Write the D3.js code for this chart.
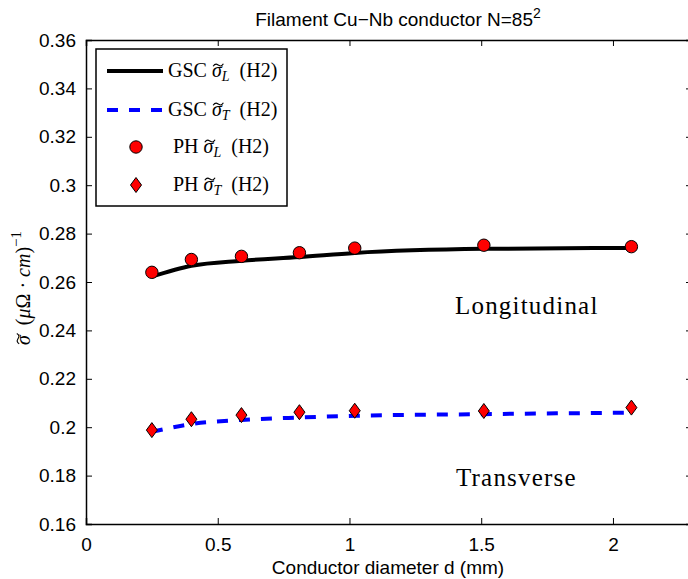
<!DOCTYPE html>
<html>
<head>
<meta charset="utf-8">
<script src="https://cdn.jsdelivr.net/npm/d3@7"></script>
<style>
  body { margin: 0; background: #fff; }
  svg { display: block; }
</style>
</head>
<body>
<div id="chart"></div>
<script>
// conductor diameters (mm)
const diam = [0.25, 0.4, 0.59, 0.81, 1.02, 1.51, 2.07];
// GSC model curves
const gscL = [0.2622, 0.2667, 0.2688, 0.2703, 0.2720, 0.2737, 0.2741];
const gscT = [0.1981, 0.2013, 0.2030, 0.2040, 0.2047, 0.2054, 0.2060];
// PH points
const phL = [0.2640, 0.2693, 0.2706, 0.2721, 0.2740, 0.2752, 0.2746];
const phT = [0.1988, 0.2033, 0.2050, 0.2062, 0.2068, 0.2067, 0.2081];

const xTicks = [0, 0.5, 1, 1.5, 2];
const yTicks = [0.16, 0.18, 0.2, 0.22, 0.24, 0.26, 0.28, 0.3, 0.32, 0.34, 0.36];

const margin = {top: 40, right: 0, bottom: 55, left: 86},
    W = 688, H = 579,
    width = 606,
    height = 484;

const svg = d3.select("#chart")
    .append("svg")
    .attr("width", W)
    .attr("height", H)
    .append("g")
    .attr("transform", "translate(" + margin.left + "," + margin.top + ")");

const x = d3.scaleLinear().domain([0, 2.3]).range([0, width]);
const y = d3.scaleLinear().domain([0.16, 0.36]).range([height, 0]);

const sans = "'Liberation Sans', Arial, Helvetica, sans-serif";
const serif = "'Liberation Serif', 'Times New Roman', serif";
const fmt = d => String(+d.toFixed(2));

// axes, ticks pointing inward like matlab
svg.append("g")
    .attr("transform", "translate(0," + height + ")")
    .call(d3.axisBottom(x).tickValues(xTicks).tickSize(-6).tickPadding(14).tickFormat(fmt));
svg.append("g")
    .call(d3.axisTop(x).tickValues(xTicks).tickSize(-6).tickFormat(""));
svg.append("g")
    .call(d3.axisLeft(y).tickValues(yTicks).tickSize(-6).tickPadding(10).tickFormat(fmt));
svg.append("g")
    .attr("transform", "translate(" + width + ",0)")
    .call(d3.axisRight(y).tickValues(yTicks).tickSize(-6).tickFormat(""));

svg.selectAll(".domain").attr("stroke", "#000").attr("stroke-width", 1.5);
svg.selectAll(".tick line").attr("stroke", "#000").attr("stroke-width", 1);
svg.selectAll(".tick text")
    .attr("font-family", sans)
    .attr("font-size", 19)
    .attr("fill", "#000");

// lines
const line = d3.line()
    .x(d => x(d[0]))
    .y(d => y(d[1]))
    .curve(d3.curveMonotoneX);

svg.append("path")
    .datum(diam.map((d, i) => [d, gscL[i]]))
    .attr("fill", "none")
    .attr("stroke", "#000")
    .attr("stroke-width", 4)
    .attr("d", line);

svg.append("path")
    .datum(diam.map((d, i) => [d, gscT[i]]))
    .attr("fill", "none")
    .attr("stroke", "#0000ff")
    .attr("stroke-width", 4)
    .attr("stroke-dasharray", "11,11")
    .attr("d", line);

// PH markers
const diamond = "M0,-7.5L5.5,0L0,7.5L-5.5,0Z";

svg.selectAll("circle.ph")
    .data(diam.map((d, i) => [d, phL[i]]))
    .enter()
    .append("circle")
    .attr("class", "ph")
    .attr("cx", d => x(d[0]))
    .attr("cy", d => y(d[1]))
    .attr("r", 6.2)
    .attr("fill", "#ff0000")
    .attr("stroke", "#000")
    .attr("stroke-width", 1);

svg.selectAll("path.pht")
    .data(diam.map((d, i) => [d, phT[i]]))
    .enter()
    .append("path")
    .attr("class", "pht")
    .attr("d", diamond)
    .attr("transform", d => "translate(" + x(d[0]) + "," + y(d[1]) + ")")
    .attr("fill", "#ff0000")
    .attr("stroke", "#000")
    .attr("stroke-width", 1);

// annotations
svg.append("text")
    .attr("x", 369).attr("y", 274)
    .attr("font-family", serif).attr("font-size", 25)
    .attr("letter-spacing", 1.2)
    .text("Longitudinal");
svg.append("text")
    .attr("x", 370).attr("y", 446)
    .attr("font-family", serif).attr("font-size", 25)
    .attr("letter-spacing", 1.2)
    .text("Transverse");

// title
const title = svg.append("text")
    .attr("x", 312).attr("y", -14)
    .attr("text-anchor", "middle")
    .attr("font-family", sans).attr("font-size", 19);
title.append("tspan").text("Filament Cu\u2212Nb conductor N=85");
title.append("tspan").attr("dy", -8).attr("font-size", 14).text("2");

// x label
svg.append("text")
    .attr("x", 302).attr("y", height + 50)
    .attr("text-anchor", "middle")
    .attr("font-family", sans).attr("font-size", 19)
    .text("Conductor diameter d (mm)");

// wide tilde accent over the sigma at char index ci of a text element
function addTilde(g, t, ci, fs) {
  const node = t.node();
  const p0 = node.getStartPositionOfChar(ci);
  const p1 = node.getEndPositionOfChar(ci);
  const x0 = p0.x + fs * 0.06, x1 = p1.x + fs * 0.08;
  const w = x1 - x0, yy = p0.y - fs * 0.6;
  g.append("path")
      .attr("d", "M" + x0 + "," + (yy + 1.2) +
          "C" + (x0 + w * 0.25) + "," + (yy - 2.4) + " " + (x0 + w * 0.4) + "," + (yy - 0.5) + " " + (x0 + w * 0.5) + "," + yy +
          "S" + (x0 + w * 0.8) + "," + (yy + 2.4) + " " + x1 + "," + (yy - 1.2))
      .attr("fill", "none")
      .attr("stroke", "#000")
      .attr("stroke-width", 1.1);
}

// y label
const ylabG = svg.append("g")
    .attr("transform", "translate(-56," + (y(0.26) + 6) + ") rotate(-90)");
const ylab = ylabG.append("text")
    .attr("text-anchor", "middle")
    .attr("font-family", serif).attr("font-size", 20);
ylab.append("tspan").attr("font-style", "italic").text("\u03c3");
ylab.append("tspan").text("\u2002(");
ylab.append("tspan").attr("font-style", "italic").text("\u03bc");
ylab.append("tspan").text("\u03a9 \u00b7 ");
ylab.append("tspan").attr("font-style", "italic").text("cm");
ylab.append("tspan").text(")");
ylab.append("tspan").attr("dy", -9).attr("font-size", 15).text("\u22121");
addTilde(ylabG, ylab, 0, 20);

// legend
const legend = svg.append("g").attr("transform", "translate(10,9)");
legend.append("rect")
    .attr("width", 191).attr("height", 157)
    .attr("fill", "#fff").attr("stroke", "#000").attr("stroke-width", 1.5);

const entries = [
  {name: "GSC", sub: "L", kind: "solid"},
  {name: "GSC", sub: "T", kind: "dash"},
  {name: "PH", sub: "L", kind: "circle"},
  {name: "PH", sub: "T", kind: "diamond"}
];
const rowY = [22, 61, 98, 136];

entries.forEach((e, i) => {
  const g = legend.append("g").attr("transform", "translate(0," + rowY[i] + ")");
  if (e.kind === "solid" || e.kind === "dash") {
    g.append("line")
        .attr("x1", 11).attr("x2", 67)
        .attr("stroke", e.kind === "solid" ? "#000" : "#0000ff")
        .attr("stroke-width", 4)
        .attr("stroke-dasharray", e.kind === "dash" ? "11,11" : null);
  } else if (e.kind === "circle") {
    g.append("circle").attr("cx", 40).attr("r", 6.2)
        .attr("fill", "#ff0000").attr("stroke", "#000");
  } else {
    g.append("path").attr("d", diamond).attr("transform", "translate(40,0)")
        .attr("fill", "#ff0000").attr("stroke", "#000");
  }
  const t = g.append("text")
      .attr("x", e.kind === "solid" || e.kind === "dash" ? 72 : 77).attr("y", 6)
      .attr("font-family", serif).attr("font-size", 20);
  t.append("tspan").text(e.name + " ");
  t.append("tspan").attr("font-style", "italic").text("\u03c3");
  t.append("tspan").attr("font-style", "italic").attr("font-size", 14).attr("dy", 4).text(e.sub);
  t.append("tspan").attr("dy", -4).text("\u2002(H2)");
  addTilde(g, t, e.name.length + 1, 20);
});
</script>
</body>
</html>
